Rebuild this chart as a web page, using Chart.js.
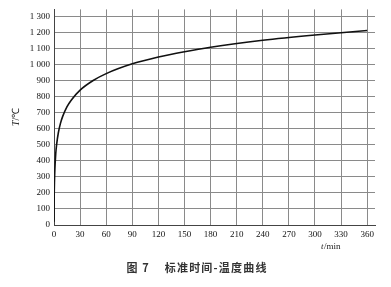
<!DOCTYPE html>
<html>
<head>
<meta charset="utf-8">
<script src="https://cdn.jsdelivr.net/npm/chart.js@4/dist/chart.umd.min.js"></script>
<style>
html, body { margin: 0; padding: 0; background: #fff; }
#wrap { width: 391px; height: 287px; }
</style>
</head>
<body>
<div id="wrap"><canvas id="chart" width="391" height="287"></canvas></div>
<script>
// time in minutes, temperature in degC
let times = [0, 0.25, 0.5, 1, 2, 3, 5, 7.5, 10, 15, 20, 30, 45, 60, 90, 120, 150, 180, 240, 300, 360];
let temps = [20, 185, 261, 349, 445, 502, 576, 636, 678, 739, 781, 842, 902, 945, 1006, 1049, 1082, 1110, 1153, 1186, 1214];
let xTicks = [0, 30, 60, 90, 120, 150, 180, 210, 240, 270, 300, 330, 360];
let yTicks = [0, 100, 200, 300, 400, 500, 600, 700, 800, 900, 1000, 1100, 1200, 1300];

let xTitle = "t/min";
let yTitle = "T/\u2103";
let caption = "图 7    标准时间-温度曲线";

let points = times.map((t, i) => ({ x: t, y: temps[i] }));

function withSpace(v)
{
    let s = String(v);
    if (s.length > 3) s = s.slice(0, s.length - 3) + " " + s.slice(s.length - 3);
    return s;
}

// extra texts: axis titles and the figure caption
let textPlugin = {
    id: "texts",
    afterDraw(chart)
    {
        let ctx = chart.ctx;
        ctx.save();
        ctx.fillStyle = "#222";
        ctx.textBaseline = "middle";
        ctx.textAlign = "left";
        ctx.font = "italic 9px 'Liberation Serif'";
        ctx.fillText(xTitle.slice(0, 1), 321, 247);
        ctx.font = "9px 'Liberation Serif'";
        ctx.fillText(xTitle.slice(1), 324, 247);

        // y title, rotated
        ctx.translate(16, 117);
        ctx.rotate(-Math.PI / 2);
        ctx.textAlign = "left";
        ctx.font = "italic 10px 'Liberation Serif'";
        let w1 = ctx.measureText(yTitle.slice(0, 1)).width;
        ctx.font = "10px 'Liberation Serif'";
        let w2 = ctx.measureText(yTitle.slice(1)).width;
        let x0 = -(w1 + w2) / 2;
        ctx.font = "italic 10px 'Liberation Serif'";
        ctx.fillText(yTitle.slice(0, 1), x0, 0);
        ctx.font = "10px 'Liberation Serif'";
        ctx.fillText(yTitle.slice(1), x0 + w1, 0);
        ctx.setTransform(1, 0, 0, 1, 0, 0);

        ctx.fillStyle = "#333";
        ctx.font = "bold 11px 'Noto Sans CJK SC'";
        ctx.letterSpacing = "1.2px";
        ctx.textAlign = "center";
        ctx.fillText(caption, 197, 268);
        ctx.restore();
    }
};

let chartElement = document.getElementById('chart').getContext('2d');

let lineChart = new Chart(chartElement,
    {
        type: 'line',
        data:
            {
                datasets:
                    [
                        {
                            data: points,
                            borderColor: '#111',
                            borderWidth: 1.6,
                            pointRadius: 0,
                            cubicInterpolationMode: 'monotone',
                            fill: false
                        }
                    ]
            },
        options:
            {
                responsive: false,
                animation: false,
                layout: { padding: { left: 0, right: 16, top: 2, bottom: 0 } },
                plugins:
                    {
                        legend: { display: false },
                        tooltip: { enabled: false }
                    },
                scales:
                    {
                        x:
                            {
                                type: 'linear',
                                min: 0,
                                max: 369,
                                afterBuildTicks: (scale) => { scale.ticks = xTicks.map(v => ({ value: v })); },
                                afterFit: (scale) => { scale.height = 62; },
                                grid: { color: '#8a8a8a', lineWidth: 1, drawTicks: false },
                                border: { color: '#444', width: 1 },
                                ticks:
                                    {
                                        padding: 4,
                                        color: '#111',
                                        maxRotation: 0,
                                        autoSkip: false,
                                        font: { family: 'Liberation Serif', size: 9 }
                                    }
                            },
                        y:
                            {
                                type: 'linear',
                                min: 0,
                                max: 1346,
                                afterBuildTicks: (scale) => { scale.ticks = yTicks.map(v => ({ value: v })); },
                                afterFit: (scale) => { scale.width = 54; },
                                grid: { color: '#8a8a8a', lineWidth: 1, drawTicks: false },
                                border: { color: '#444', width: 1 },
                                ticks:
                                    {
                                        padding: 4,
                                        color: '#111',
                                        autoSkip: false,
                                        font: { family: 'Liberation Serif', size: 9 },
                                        callback: (v) => withSpace(v)
                                    }
                            }
                    }
            },
        plugins: [textPlugin]
    });
</script>
</body>
</html>
